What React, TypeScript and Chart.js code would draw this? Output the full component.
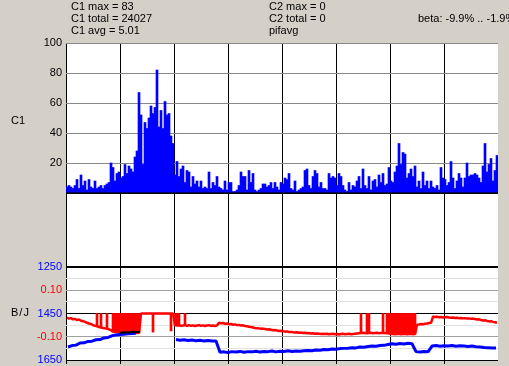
import React, { useEffect, useRef } from 'react';
import { Chart, registerables } from 'chart.js';

Chart.register(...registerables);

const FONT = '"Liberation Sans", Arial, sans-serif';

// ---- header / labels ----
const headerLeft = ['C1 max = 83', 'C1 total = 24027', 'C1 avg = 5.01'];
const headerMid = ['C2 max = 0', 'C2 total = 0', 'pifavg'];
const headerRight = 'beta: -9.9% .. -1.9%';
const histAxisTitle = 'C1';
const lowerAxisTitle = 'B/J';

// ---- tick labels ----
const histTickLabels = [100, 80, 60, 40, 20];
const blueTickLabels = [1250, 1450, 1650];
const redTickLabels = [0.1, -0.1];

// ---- C1 histogram (one value per sample bin) ----
const histValues = [
  4, 5, 4, 3, 5, 9, 3, 12, 5, 8, 2, 9, 4, 3, 8, 3, 4, 5, 3, 5, 6, 7, 20, 17, 8, 13, 14,
  10, 11, 19, 13, 18, 16, 14, 24, 28, 67, 52, 19, 47, 43, 50, 58, 53, 57, 82, 44, 55, 43, 61, 52, 53, 38, 33,
  12, 21, 11, 16, 18, 7, 15, 14, 4, 11, 6, 8, 4, 8, 3, 4, 3, 14, 3, 7, 5, 11, 4, 3, 2, 8, 2,
  7, 7, 1, 1, 2, 5, 14, 11, 11, 2, 15, 7, 13, 2, 1, 2, 3, 6, 6, 4, 5, 7, 3, 7, 4, 2, 7,
  6, 10, 9, 13, 3, 2, 8, 1, 2, 3, 4, 15, 16, 5, 3, 11, 15, 13, 4, 7, 3, 3, 2, 13, 10, 11, 10,
  5, 13, 11, 5, 2, 1, 7, 2, 5, 4, 8, 11, 3, 16, 5, 3, 11, 2, 8, 9, 4, 12, 7, 13, 5, 6, 17,
  8, 7, 14, 18, 33, 19, 27, 26, 10, 13, 16, 11, 18, 4, 8, 3, 14, 5, 8, 3, 8, 4, 3, 5, 2, 17, 10,
  9, 5, 7, 21, 10, 3, 8, 13, 10, 4, 10, 20, 11, 12, 12, 13, 12, 10, 7, 18, 33, 14, 19, 23, 8, 15, 25,
];

// ---- red series (J), base signal per sample ----
const redBase = [
  -0.018, -0.022, -0.020, -0.025, -0.023, -0.028, -0.026, -0.031, -0.033, -0.036, -0.040, -0.043, -0.045, -0.050, -0.053,
  -0.055, -0.058, -0.060, -0.062, -0.064, -0.066, -0.068, -0.072,
  -0.078, -0.080, -0.079, -0.081, -0.080, -0.082, -0.081, -0.083, -0.082, -0.081, -0.083, -0.082, -0.084, -0.083,
  0, 0, 0, 0, 0, 0, 0, 0, 0, 0, 0, 0, 0, 0, 0, 0, 0,
  -0.050, -0.052, -0.051, -0.053, -0.052, -0.050, -0.053,
  -0.050, -0.053, -0.051, -0.054, -0.052, -0.050, -0.053, -0.051, -0.054, -0.052, -0.050, -0.053, -0.052, -0.054, -0.051,
  -0.040, -0.042, -0.041, -0.044, -0.043, -0.046, -0.045, -0.048, -0.047, -0.050, -0.049, -0.052, -0.051, -0.054, -0.055, -0.057, -0.058, -0.060, -0.062,
  -0.063, -0.064, -0.066, -0.065, -0.067, -0.069, -0.068, -0.070, -0.072, -0.071, -0.073, -0.075, -0.074, -0.076, -0.078, -0.077, -0.080,
  -0.079, -0.081, -0.082, -0.081, -0.083, -0.082, -0.084, -0.083, -0.085, -0.084, -0.086, -0.085, -0.087, -0.086, -0.087, -0.088, -0.087,
  -0.088, -0.087, -0.089, -0.088, -0.087, -0.089, -0.088, -0.090, -0.088, -0.087, -0.089, -0.088, -0.087, -0.089, -0.088, -0.087, -0.086, -0.085,
  -0.084, -0.083, -0.084, -0.085, -0.084, -0.083, -0.085, -0.084, -0.083, -0.085, -0.084, -0.083, -0.084, -0.085,
  -0.086, -0.088, -0.087, -0.089, -0.088, -0.087, -0.089, -0.088, -0.087, -0.089, -0.088, -0.087, -0.089, -0.088,
  -0.048, -0.047, -0.045, -0.046, -0.044, -0.043, -0.041, -0.040,
  -0.013, -0.015, -0.014, -0.016, -0.015, -0.017, -0.016, -0.015, -0.017, -0.018, -0.017, -0.019, -0.018, -0.020, -0.019, -0.021, -0.020, -0.022, -0.021, -0.023, -0.022,
  -0.024, -0.026, -0.025, -0.028, -0.030, -0.029, -0.032, -0.034, -0.033, -0.036, -0.038, -0.040,
];
// sample ranges where the red signal bursts up to redBurstTop
const redBurstStart = [15, 17, 20, 23, 54, 59, 147, 150, 158, 160];
const redBurstEnd = [15, 17, 20, 36, 56, 59, 147, 151, 158, 174];
const redBurstTop = 0;
// single samples where the red signal drops down from its base
const redDipIndex = [43, 52];
const redDipLow = [-0.080, -0.075];

// ---- blue series (B), one value per 2 sample bins ----
const blueValues = [
  1594, 1588, 1586, 1577, 1576, 1570, 1569, 1563, 1562, 1555, 1553, 1546, 1542,
  1540, 1539, 1537, 1536, 1535,
  null, null, null, null, null, null, null, null, null,
  1562, 1565, 1563, 1566, 1564, 1567, 1565, 1568, 1566, 1568,
  1568,
  1617, 1615, 1618, 1614, 1616, 1613, 1617, 1614, 1615, 1612, 1616, 1613, 1614, 1611, 1615, 1612, 1613, 1610, 1613, 1611, 1612,
  1610, 1609, 1610, 1607, 1608, 1605, 1606, 1603, 1604, 1601, 1600, 1599, 1597, 1598, 1594, 1595, 1592, 1590, 1591, 1588, 1587,
  1583, 1580, 1582, 1579, 1581, 1578, 1580,
  1614, 1616, 1613, 1615,
  1590, 1588, 1591, 1589, 1590, 1588, 1591, 1589, 1590, 1592, 1590, 1593, 1594, 1596, 1597, 1598, 1598,
];
// black overlay segment of the B series
const blackStart = 13;
const blackValues = [1534, 1531, 1532, 1529, 1530, 1528];

const X_MAX = 432;
const X_GRID_STEP = 54;
const HIST_STEP = 2;
const RED_STEP = 2;
const BLUE_STEP = 4;

const TRANSPARENT = 'rgba(0,0,0,0)';

function blueGridColor(v: number | undefined) {
  if (v === 1250 || v === 1450 || v === 1650) return '#000000';
  if (v === 1350 || v === 1550) return '#a0a0a0';
  if (v === 1300 || v === 1400 || v === 1500 || v === 1600) return '#e2e2e2';
  return TRANSPARENT;
}

export default function App() {
  const ref = useRef<HTMLCanvasElement>(null);

  useEffect(() => {
    const canvas = ref.current;
    if (!canvas) return;
    Chart.defaults.font.family = FONT;
    Chart.defaults.font.size = 11;

    const histData = histValues.map((v, i) => ({ x: HIST_STEP * i + HIST_STEP / 2, y: v }));
    const redData = redBase.map((v, i) => ({ x: RED_STEP * i + RED_STEP / 2, y: v }));
    const burstData: any[] = [];
    redBurstStart.forEach((s, k) => {
      for (let i = s; i <= redBurstEnd[k]; i++) {
        burstData.push({ x: RED_STEP * i + RED_STEP / 2, y: [redBase[i], redBurstTop] });
      }
    });
    redDipIndex.forEach((i, k) => {
      burstData.push({ x: RED_STEP * i + RED_STEP / 2, y: [redDipLow[k], redBase[i]] });
    });
    const blueData = blueValues.map((v, i) => ({ x: BLUE_STEP * i + BLUE_STEP / 2, y: v }));
    const blackData = blackValues.map((v, k) => ({ x: BLUE_STEP * (blackStart + k) + BLUE_STEP / 2, y: v }));

    const whiteArea = {
      id: 'whiteArea',
      beforeDraw(c: any) {
        const { ctx, chartArea: a } = c;
        ctx.save();
        ctx.fillStyle = '#ffffff';
        ctx.fillRect(a.left, a.top, a.right - a.left, a.bottom - a.top);
        ctx.restore();
      },
    };

    // the lower-panel axes share the label column of the C1 axis
    const sharedLabelColumn = {
      id: 'sharedLabelColumn',
      afterLayout(c: any) {
        const h = c.scales.yHist;
        for (const id of ['yBlue', 'yRed']) {
          const s = c.scales[id];
          s.left = h.left;
          s.right = h.right;
          s.width = h.width;
        }
      },
    };

    const chart = new Chart(canvas, {
      type: 'bar',
      data: {
        datasets: [
          {
            type: 'line',
            data: blackData,
            yAxisID: 'yBlue',
            borderColor: '#000000',
            borderWidth: 2,
            pointRadius: 0,
            tension: 0,
            borderJoinStyle: 'bevel',
          },
          {
            type: 'line',
            data: blueData,
            yAxisID: 'yBlue',
            borderColor: '#0000ff',
            borderWidth: 3,
            pointRadius: 0,
            tension: 0,
            spanGaps: false,
            borderJoinStyle: 'bevel',
          },
          {
            type: 'line',
            data: redData,
            yAxisID: 'yRed',
            borderColor: '#ff0000',
            borderWidth: 2.5,
            pointRadius: 0,
            tension: 0,
            borderJoinStyle: 'bevel',
          },
          {
            type: 'bar',
            data: burstData,
            yAxisID: 'yRed',
            backgroundColor: '#ff0000',
            borderWidth: 0,
            barPercentage: 1,
            categoryPercentage: 1,
            grouped: false,
          },
          {
            type: 'bar',
            data: histData,
            yAxisID: 'yHist',
            backgroundColor: '#0000ff',
            borderWidth: 0,
            barPercentage: 1,
            categoryPercentage: 1,
            grouped: false,
          },
        ] as any,
      },
      plugins: [whiteArea, sharedLabelColumn],
      options: {
        animation: false,
        responsive: false,
        events: [],
        layout: { padding: { top: 43, right: 11, bottom: 0, left: 0 } },
        plugins: { legend: { display: false }, tooltip: { enabled: false } },
        scales: {
          x: {
            type: 'linear',
            position: 'bottom',
            min: 0,
            max: X_MAX,
            offset: false,
            z: 1,
            ticks: { display: false, stepSize: X_GRID_STEP, autoSkip: false },
            grid: {
              offset: false,
              color: (c: any) => (c.tick && c.tick.value < X_MAX ? '#000000' : TRANSPARENT),
              lineWidth: 1,
              drawTicks: true,
              tickLength: 4,
            },
            border: { display: false },
            afterFit: (s: any) => {
              s.height = 6;
              s.paddingLeft = 0;
              s.paddingRight = 0;
            },
          },
          yHist: {
            type: 'linear',
            position: 'left',
            weight: 10,
            min: -111.33,
            max: 100,
            z: 1,
            ticks: {
              stepSize: 20,
              autoSkip: false,
              padding: 4,
              color: '#000000',
              callback: (v: any) => (histTickLabels.includes(v) ? String(v) : ''),
            },
            grid: {
              color: (c: any) => {
                const v = c.tick ? c.tick.value : undefined;
                if (v === 0) return '#000000';
                if (v > 0 && v <= 100) return '#888888';
                return TRANSPARENT;
              },
              lineWidth: (c: any) => (c.tick && c.tick.value === 0 ? 2 : 1),
              drawTicks: false,
            },
            border: { display: false },
            afterFit: (s: any) => {
              s.width = 66;
              s.paddingTop = 0;
              s.paddingBottom = 0;
            },
          },
          yBlue: {
            type: 'linear',
            position: 'left',
            weight: 0,
            reverse: true,
            min: 286.56,
            max: 1650,
            z: 1,
            ticks: {
              stepSize: 50,
              autoSkip: false,
              padding: 4,
              color: '#0000ff',
              callback: (v: any) => (blueTickLabels.includes(v) ? String(v) : ''),
            },
            grid: {
              color: (c: any) => blueGridColor(c.tick ? c.tick.value : undefined),
              lineWidth: (c: any) => (c.tick && c.tick.value === 1250 ? 2 : 1),
              drawTicks: false,
            },
            border: { display: false },
            afterFit: (s: any) => {
              s.width = 0;
              s.paddingTop = 0;
              s.paddingBottom = 0;
            },
          },
          yRed: {
            type: 'linear',
            position: 'left',
            weight: 0,
            min: -0.2,
            max: 1.1634,
            z: 1,
            ticks: {
              stepSize: 0.1,
              autoSkip: false,
              padding: 4,
              color: '#ff0000',
              callback: (v: any) => (redTickLabels.includes(v) ? Number(v).toFixed(2) : ''),
            },
            grid: { display: false, drawTicks: false },
            border: { display: false },
            afterFit: (s: any) => {
              s.width = 0;
              s.paddingTop = 0;
              s.paddingBottom = 0;
            },
          },
        },
      } as any,
    });
    return () => chart.destroy();
  }, []);

  const textBlock: React.CSSProperties = { position: 'absolute', lineHeight: '12px', whiteSpace: 'nowrap' };

  return (
    <div
      style={{
        position: 'fixed',
        left: 0,
        top: 0,
        width: 509,
        height: 366,
        background: '#d4d0c8',
        overflow: 'hidden',
        fontFamily: FONT,
        fontSize: 11,
        color: '#000',
      }}
    >
      <canvas ref={ref} width={509} height={366} style={{ position: 'absolute', left: 0, top: 0, display: 'block' }} />
      <div style={{ ...textBlock, left: 71, top: 0 }}>
        {headerLeft.map((t) => (
          <div key={t}>{t}</div>
        ))}
      </div>
      <div style={{ ...textBlock, left: 269, top: 0 }}>
        {headerMid.map((t) => (
          <div key={t}>{t}</div>
        ))}
      </div>
      <div style={{ ...textBlock, left: 418, top: 12 }}>{headerRight}</div>
      <div style={{ ...textBlock, left: 11, top: 114 }}>{histAxisTitle}</div>
      <div style={{ ...textBlock, left: 11, top: 306, letterSpacing: 1 }}>{lowerAxisTitle}</div>
    </div>
  );
}
